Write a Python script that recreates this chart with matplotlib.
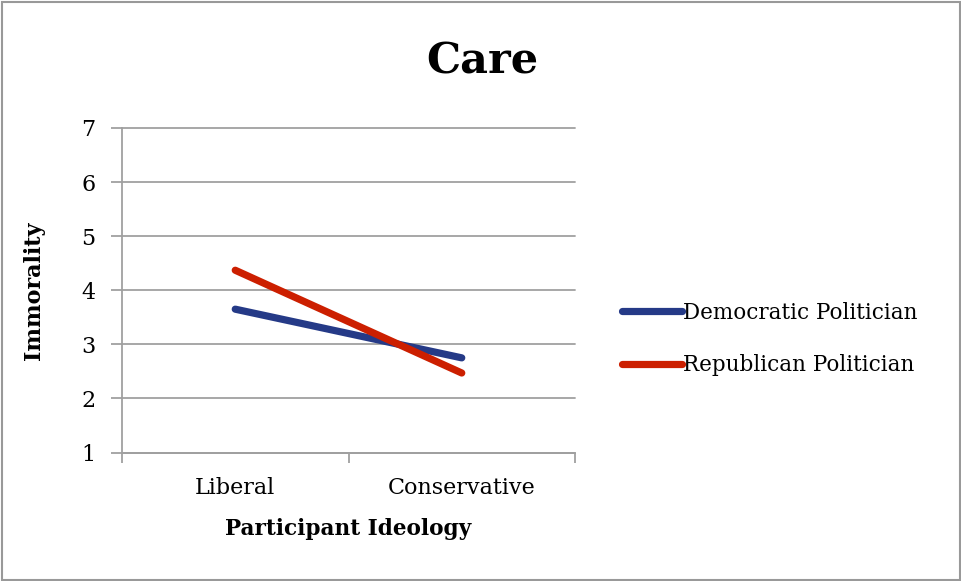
import matplotlib.pyplot as plt
from matplotlib.patches import Rectangle

# Mean immorality ratings by participant ideology
ideology = ['Liberal', 'Conservative']
democratic = [3.65, 2.75]
republican = [4.37, 2.47]

plt.rcParams['font.family'] = 'DejaVu Serif'
plt.rcParams['lines.solid_capstyle'] = 'round'

fig = plt.figure(figsize=(9.62, 5.81), dpi=100)
ax = fig.add_axes([122/962, (581-452.5)/581, (575-122)/962, (452.5-128)/581])

x = range(len(ideology))
ax.plot(x, democratic, color='#253a87', lw=5.2, label='Democratic Politician')
ax.plot(x, republican, color='#cc1f00', lw=5.2, label='Republican Politician')

ax.set_xlim(-0.5, 1.5)
ax.set_ylim(1, 7)
ax.set_yticks(range(1, 8))
ax.yaxis.grid(True, color='#a0a0a0', lw=1.3)
ax.set_axisbelow(True)
for gl in ax.get_ygridlines():
    gl.set_clip_on(False)

# category boundaries as major ticks, names centred as minor ticks
ax.set_xticks([-0.5, 0.5, 1.5])
ax.set_xticklabels([])
ax.set_xticks(list(x), minor=True)
ax.set_xticklabels(ideology, minor=True)
ax.tick_params(axis='x', which='major', length=7, width=1.3, color='#a0a0a0')
ax.tick_params(axis='x', which='minor', length=0, pad=18, labelsize=16)
ax.tick_params(axis='y', length=8, width=1.3, color='#a0a0a0', labelsize=16, pad=11)

for s in ['top', 'right']:
    ax.spines[s].set_visible(False)
for s in ['left', 'bottom']:
    ax.spines[s].set_color('#a0a0a0')
    ax.spines[s].set_linewidth(1.3)

ax.set_xlabel('Participant Ideology', fontsize=15.6, fontweight='bold', labelpad=13)
ax.set_ylabel('Immorality', fontsize=16, fontweight='bold', labelpad=26)

fig.text(0.501, 1 - 62/581, 'Care', ha='center', va='center', fontsize=31, fontweight='bold')

fig.legend(loc='center left', bbox_to_anchor=(603/962, 1 - 339/581), frameon=False,
           fontsize=15.5, handlelength=2.75, handletextpad=0.08, labelspacing=1.4)

# outer chart border
fig.patches.append(Rectangle((0.002, 0.002), 0.996, 0.995, transform=fig.transFigure,
                             fill=False, edgecolor='#999999', lw=1.5))

fig.savefig('out.png', dpi=100)
